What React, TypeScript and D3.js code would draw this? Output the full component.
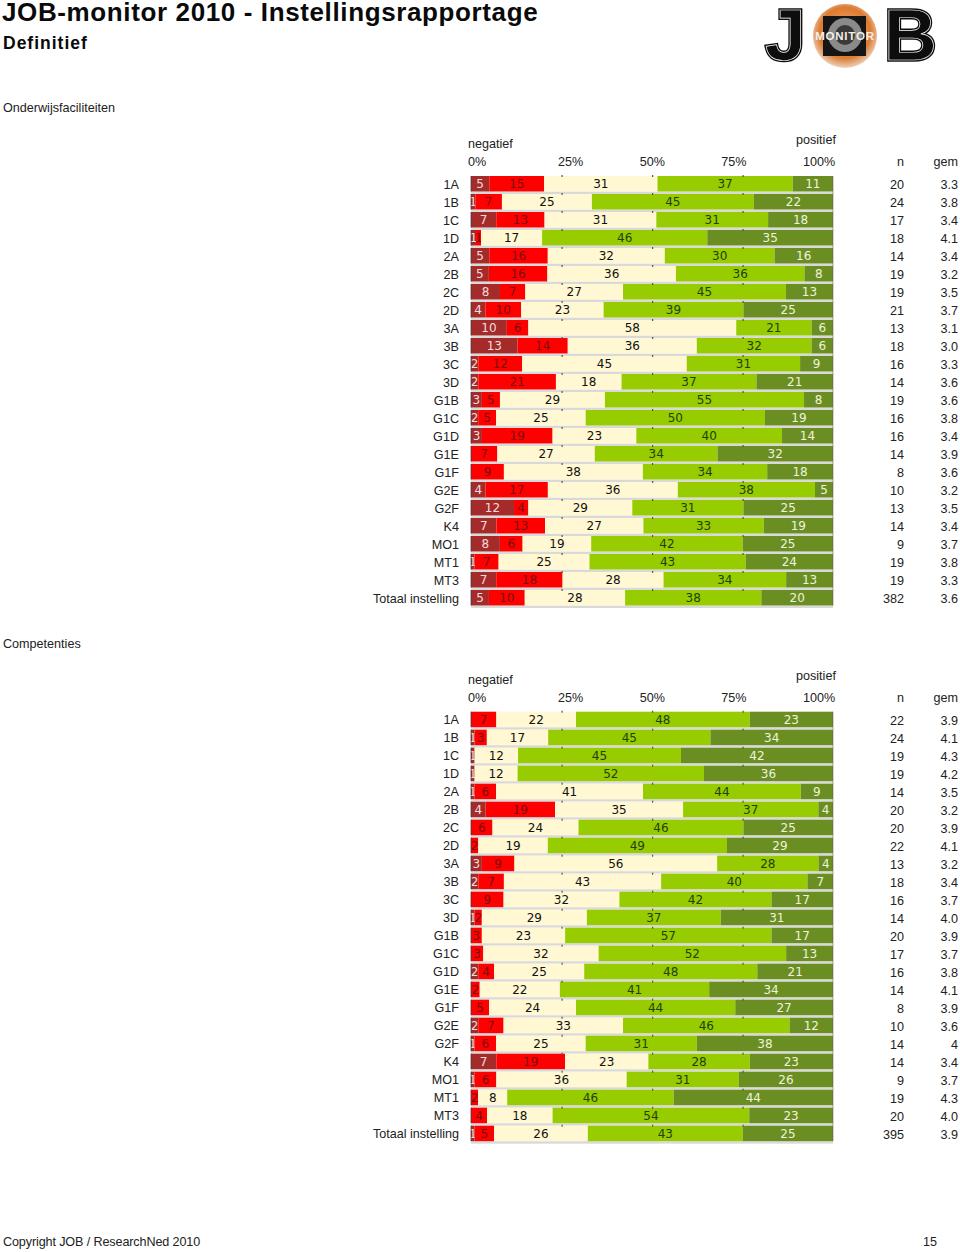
import React from "react";
import * as d3 from "d3";

const categories1 = ["1A","1B","1C","1D","2A","2B","2C","2D","3A","3B","3C","3D","G1B","G1C","G1D","G1E","G1F","G2E","G2F","K4","MO1","MT1","MT3","Totaal instelling"];
const veryNeg1 = [5,1.2,7,1.4,5,5,8,4,10,13,2,2,3,2,3,0,0,4,12,7,8,1,7,5];
const neg1 = [15,7.4,13.4,1.4,16,16.4,7,10,6,14,12,21.3,5,5,19.4,7.3,9,17.3,4,13.3,6.3,6.6,18.4,10];
const neutral1 = [31,25,31,17,32,36,27,23,58,36,45,18,29,25,23,27,38,36,29,27,19,25,28,28];
const pos1 = [37,45,31,46,30,36,45,39,21,32,31,37,55,50,40,34,34,38,31,33,42,43,34,38];
const veryPos1 = [11,22,18,35,16,8,13,25,6,6,9,21,8,19,14,32,18,5,25,19,25,24,13,20];
const n1 = ["20","24","17","18","14","19","19","21","13","18","16","14","19","16","16","14","8","10","13","14","9","19","19","382"];
const gem1 = ["3.3","3.8","3.4","4.1","3.4","3.2","3.5","3.7","3.1","3.0","3.3","3.6","3.6","3.8","3.4","3.9","3.6","3.2","3.5","3.4","3.7","3.8","3.3","3.6"];

const categories2 = ["1A","1B","1C","1D","2A","2B","2C","2D","3A","3B","3C","3D","G1B","G1C","G1D","G1E","G1F","G2E","G2F","K4","MO1","MT1","MT3","Totaal instelling"];
const veryNeg2 = [0,1,1,1,1,4,0,0,3,2,0,1,0,0,2,0,0,2,1,7,1,0,0,1];
const neg2 = [7,3.4,0,0,6,19,6,2,9,7,9,2,3,3.4,4.4,2.4,5,7,6,19,6,2,4.4,5.4];
const neutral2 = [22,17,12,12,41,35,24,19,56,43,32,29,23,32,25,22,24,33,25,23,36,8,18,26];
const pos2 = [48,45,45,52,44,37,46,49,28,40,42,37,57,52,48,41,44,46,31,28,31,46,54,43];
const veryPos2 = [23,34,42,36,9,4,25,29,4,7,17,31,17,13,21,34,27,12,38,23,26,44,23,25];
const n2 = ["22","24","19","19","14","20","20","22","13","18","16","14","20","17","16","14","8","10","14","14","9","19","20","395"];
const gem2 = ["3.9","4.1","4.3","4.2","3.5","3.2","3.9","4.1","3.2","3.4","3.7","4.0","3.9","3.7","3.8","4.1","3.9","3.6","4","3.4","3.7","4.3","4.0","3.9"];

const axisTicks = [0, 25, 50, 75, 100];
const segColors = ["#a52a2a", "#ff0000", "#fff8d2", "#96cc00", "#6b8e23"];
const labelColors = ["#f4dcdc", "#7a0c0c", "#111111", "#24400a", "#eef3dc"];

const SANS = "'Liberation Sans', Arial, sans-serif";
const LABEL = "'DejaVu Sans', Verdana, sans-serif";

const x = d3.scaleLinear().domain([0, 100]).range([471, 833]);
const tickLabelX = d3.scaleLinear().domain([25, 100]).range([558, 803]);

function Table(props: any) {
  const { title, top, cats, series, ns, gems } = props;
  const step = 18;
  const rowY = d3.scaleBand<number>().domain(d3.range(cats.length)).range([top + 176, top + 176 + step * (cats.length - 0.14)]).paddingInner(0.14).paddingOuter(0);
  const stack = d3.stack<number>().keys(d3.range(5) as any).value((i: number, k: any) => series[k][i]).offset(d3.stackOffsetExpand);
  const layers = stack(d3.range(cats.length));
  const t = { fontFamily: SANS, fontSize: 12.6, fill: "#222" };
  return (
    <g>
      <text x={3} y={top + 112} {...t}>{title}</text>
      <text x={468} y={top + 148} {...t}>negatief</text>
      <text x={796} y={top + 144} {...t}>positief</text>
      {axisTicks.map((d) => (
        <text key={d} x={d === 0 ? 468 : tickLabelX(d)} y={top + 166} {...t}>{d}%</text>
      ))}
      <text x={904} y={top + 166} textAnchor="end" {...t}>n</text>
      <text x={958} y={top + 166} textAnchor="end" {...t}>gem</text>
      {cats.map((c: string, i: number) => (
        <g key={c}>
          <rect x={471} y={rowY(i)! + rowY.bandwidth()} width={362} height={2.5} fill="#d9d9d9" />
          <text x={459} y={rowY(i)! + 12.5} textAnchor="end" {...t}>{c}</text>
          <text x={904} y={rowY(i)! + 13} textAnchor="end" {...t}>{ns[i]}</text>
          <text x={958} y={rowY(i)! + 13} textAnchor="end" {...t}>{gems[i]}</text>
        </g>
      ))}
      {layers.map((layer: any, k: number) => (
        <g key={k}>
          {layer.map((p: any, i: number) => {
            const v = series[k][i];
            if (!v) return null;
            const x0 = x(p[0] * 100), x1 = x(p[1] * 100);
            return (
              <g key={i}>
                <rect x={x0} y={rowY(i)} width={x1 - x0} height={rowY.bandwidth()} fill={segColors[k]} />
                <text x={(x0 + x1) / 2} y={rowY(i)! + 12.3} textAnchor="middle" fontFamily={LABEL} fontSize={12} fill={labelColors[k]}>{Math.round(v)}</text>
              </g>
            );
          })}
        </g>
      ))}
      {cats.map((c: string, i: number) => (
        <g key={c}>
          <rect x={470.5} y={rowY(i)} width={1} height={rowY.bandwidth()} fill="#3a3a3a" opacity={0.7} />
          {axisTicks.slice(1, 4).map((d) => (
            <rect key={d} x={x(d)} y={rowY(i)! - 1} width={1.2} height={2} fill="#555" />
          ))}
        </g>
      ))}
      <rect x={832.5} y={top + 176} width={1} height={step * cats.length - 2.5} fill="#555" opacity={0.5} />
    </g>
  );
}

function Logo() {
  const letter = { fontFamily: SANS, fontWeight: "bold", fontSize: 73, fill: "#0d0d0d" } as any;
  return (
    <g>
      <defs>
        <radialGradient id="orb" cx="50%" cy="45%" r="55%">
          <stop offset="0%" stopColor="#f7b27a" />
          <stop offset="72%" stopColor="#dd7a30" />
          <stop offset="100%" stopColor="#ecd2bd" />
        </radialGradient>
      </defs>
      <text x={765} y={60} {...letter} stroke="#0d0d0d" strokeWidth={3.5}>J</text>
      <text x={765} y={60} {...letter} stroke="#fff" strokeWidth={0.7}>J</text>
      <circle cx={845} cy={36} r={32} fill="url(#orb)" />
      <rect x={823} y={16} width={43} height={40} fill="#151515" />
      <circle cx={845} cy={35} r={17} fill="#8a8a8a" />
      <circle cx={845} cy={35} r={10} fill="#3a3a3a" />
      <text x={845} y={39.5} textAnchor="middle" fontFamily={SANS} fontWeight="bold" fontSize={11.5} letterSpacing={0.8} fill="#f4f0e8">MONITOR</text>
      <text x={884} y={60} {...letter} stroke="#0d0d0d" strokeWidth={3.5}>B</text>
      <text x={884} y={60} {...letter} stroke="#fff" strokeWidth={0.7}>B</text>
    </g>
  );
}

export default function App() {
  return (
    <svg width={960} height={1252} viewBox="0 0 960 1252" style={{ position: "absolute", left: 0, top: 0, background: "#fff" }}>
      <text x={2} y={21} fontFamily={SANS} fontWeight="bold" fontSize={26} letterSpacing={0.62} fill="#0a0a0a">JOB-monitor 2010 - Instellingsrapportage</text>
      <text x={3} y={49} fontFamily={SANS} fontWeight="bold" fontSize={17.5} letterSpacing={1} fill="#0a0a0a">Definitief</text>
      <Logo />
      <Table title="Onderwijsfaciliteiten" top={0} cats={categories1} series={[veryNeg1, neg1, neutral1, pos1, veryPos1]} ns={n1} gems={gem1} />
      <Table title="Competenties" top={535.7} cats={categories2} series={[veryNeg2, neg2, neutral2, pos2, veryPos2]} ns={n2} gems={gem2} />
      <text x={3} y={1246} fontFamily={SANS} fontSize={12.6} letterSpacing={-0.12} fill="#222">Copyright JOB / ResearchNed 2010</text>
      <text x={937} y={1246} textAnchor="end" fontFamily={SANS} fontSize={12.6} fill="#222">15</text>
    </svg>
  );
}
